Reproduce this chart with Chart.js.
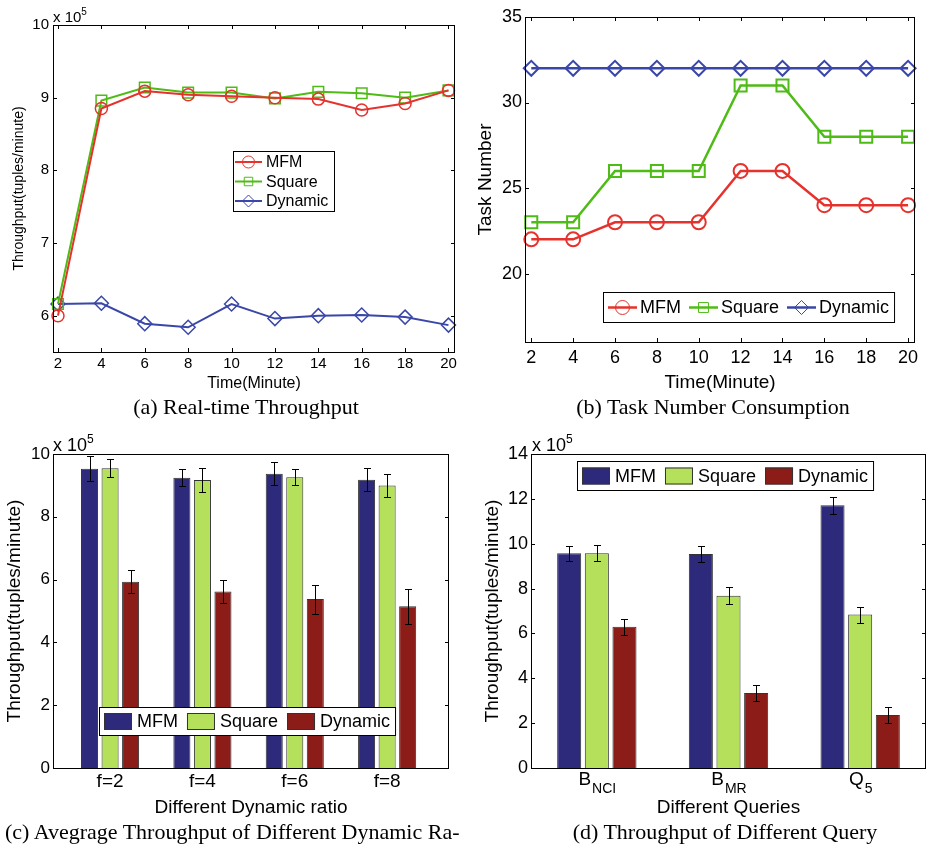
<!DOCTYPE html>
<html>
<head>
<meta charset="utf-8">
<script src="https://cdn.jsdelivr.net/npm/chart.js@4.4.0/dist/chart.umd.min.js"></script>
<style>
  body { margin: 0; background: #fff; width: 928px; height: 848px; position: relative; overflow: hidden;
         font-family: "Liberation Sans", Arial, sans-serif; color: #000; }
  canvas { position: absolute; }
  .cap { position: absolute; font-family: "Liberation Serif", "Times New Roman", serif; font-size: 22px;
         line-height: 24px; white-space: nowrap; text-align: center; }
  .exp { position: absolute; white-space: nowrap; line-height: 1; }
  .exp span { position: relative; }
</style>
</head>
<body>
<canvas id="chartA" width="464" height="395" style="left:0;top:0"></canvas>
<canvas id="chartB" width="464" height="395" style="left:464px;top:0"></canvas>
<canvas id="chartC" width="464" height="400" style="left:0;top:420px"></canvas>
<canvas id="chartD" width="464" height="400" style="left:464px;top:420px"></canvas>

<div class="exp" style="left:53px;top:9px;font-size:15px">x 10<span style="font-size:10px;top:-7px">5</span></div>
<div class="exp" style="left:53px;top:436px;font-size:18px">x 10<span style="font-size:12px;top:-8px">5</span></div>
<div class="exp" style="left:532px;top:436px;font-size:18px">x 10<span style="font-size:12px;top:-8px">5</span></div>

<div class="cap" style="left:46px;width:400px;top:395px">(a) Real-time Throughput</div>
<div class="cap" style="left:513px;width:400px;top:395px">(b) Task Number Consumption</div>
<div class="cap" style="left:5px;top:820px;text-align:left">(c) Avegrage Throughput of Different Dynamic Ra-</div>
<div class="cap" style="left:525px;width:400px;top:820px">(d) Throughput of Different Query</div>

<script>
// (a) real-time throughput, x 10^5 tuples/minute
const minutes = [2, 4, 6, 8, 10, 12, 14, 16, 18, 20];
const mfmRate = [6.0, 8.85, 9.09, 9.04, 9.02, 9.0, 8.98, 8.83, 8.92, 9.1];
const squareRate = [6.16, 8.96, 9.14, 9.07, 9.07, 8.99, 9.08, 9.06, 9.0, 9.1];
const dynamicRate = [6.16, 6.17, 5.89, 5.84, 6.16, 5.96, 6.0, 6.01, 5.98, 5.87];
const rateTicks = [6, 7, 8, 9, 10];

// (b) task number
const mfmTasks = [22, 22, 23, 23, 23, 26, 26, 24, 24, 24];
const squareTasks = [23, 23, 26, 26, 26, 31, 31, 28, 28, 28];
const dynamicTasks = [32, 32, 32, 32, 32, 32, 32, 32, 32, 32];
const taskTicks = [20, 25, 30, 35];

// (c) average throughput by dynamic ratio
const ratios = ['f=2', 'f=4', 'f=6', 'f=8'];
const mfmByRatio = [9.53, 9.24, 9.37, 9.18];
const mfmByRatioErr = [0.4, 0.27, 0.37, 0.37];
const squareByRatio = [9.55, 9.17, 9.26, 9.0];
const squareByRatioErr = [0.28, 0.37, 0.26, 0.36];
const dynamicByRatio = [5.93, 5.62, 5.38, 5.15];
const dynamicByRatioErr = [0.36, 0.36, 0.46, 0.55];
const ratioTicks = [0, 2, 4, 6, 8, 10];

// (d) throughput by query  [base, subscript]
const queries = [['B', 'NCI'], ['B', 'MR'], ['Q', '5']];
const mfmByQuery = [9.57, 9.54, 11.71];
const mfmByQueryErr = [0.35, 0.37, 0.37];
const squareByQuery = [9.57, 7.68, 6.84];
const squareByQueryErr = [0.36, 0.37, 0.36];
const dynamicByQuery = [6.3, 3.34, 2.36];
const dynamicByQueryErr = [0.35, 0.37, 0.37];
const queryTicks = [0, 2, 4, 6, 8, 10, 12, 14];

const RED = '#e5322d', GREEN = '#4fbb17', BLUE = '#3a47a9';
const NAVY = '#2e2a7b', LIME = '#b5e05c', MAROON = '#8b1c17';
const FONT = '"Liberation Sans", Arial, sans-serif';
const NOGRID = { display: false, drawTicks: false };

Chart.defaults.color = '#000';
Chart.defaults.font.family = FONT;
Chart.defaults.animation = false;
Chart.defaults.plugins.legend.display = false;
Chart.defaults.plugins.tooltip.enabled = false;

function marker(ctx, style, x, y, r) {
  ctx.beginPath();
  if (style === 'circle') ctx.arc(x, y, r, 0, Math.PI * 2);
  else if (style === 'rect') { const s = r * Math.SQRT1_2; ctx.rect(x - s, y - s, 2 * s, 2 * s); }
  else { ctx.moveTo(x, y - r); ctx.lineTo(x + r, y); ctx.lineTo(x, y + r); ctx.lineTo(x - r, y); ctx.closePath(); }
  ctx.stroke();
}

function drawLegend(chart, o) {
  const ctx = chart.ctx;
  const sets = chart.data.datasets;
  ctx.save();
  ctx.font = o.size + 'px ' + FONT;
  ctx.textBaseline = 'middle';
  let w = o.w;
  if (!o.vertical) {
    w = o.pad;
    sets.forEach((ds, i) => {
      w += o.sample + o.gap + ctx.measureText(ds.label).width + (i < sets.length - 1 ? o.space : 0);
    });
    w += o.pad;
  }
  ctx.fillStyle = '#fff';
  ctx.fillRect(o.x, o.y, w, o.h);
  ctx.strokeStyle = '#000';
  ctx.lineWidth = 1;
  ctx.strokeRect(o.x + 0.5, o.y + 0.5, w, o.h);
  let cx = o.x + o.pad;
  sets.forEach((ds, i) => {
    const sy = o.vertical ? o.y + o.first + i * o.step : o.y + o.h / 2 + 0.5;
    const sx = o.vertical ? o.x + o.pad : cx;
    if (o.swatch) {
      ctx.fillStyle = ds.backgroundColor;
      ctx.fillRect(sx, sy - o.sh / 2, o.sample, o.sh);
      ctx.strokeStyle = '#333';
      ctx.strokeRect(sx + 0.5, sy - o.sh / 2 + 0.5, o.sample - 1, o.sh - 1);
    } else {
      ctx.strokeStyle = ds.borderColor;
      ctx.lineWidth = o.lw;
      ctx.beginPath();
      ctx.moveTo(sx, sy);
      ctx.lineTo(sx + o.sample, sy);
      ctx.stroke();
      ctx.lineWidth = 1;
      marker(ctx, ds.pointStyle, sx + o.sample / 2, sy, o.mr);
    }
    ctx.fillStyle = '#000';
    ctx.fillText(ds.label, sx + o.sample + o.gap, sy + 1);
    cx += o.sample + o.gap + ctx.measureText(ds.label).width + o.space;
  });
  ctx.restore();
}

const matlabLook = {
  id: 'matlabLook',
  afterDatasetsDraw(chart, args, o) {
    const { ctx, chartArea: a, scales } = chart;
    ctx.save();
    ctx.strokeStyle = '#000';
    ctx.lineWidth = 1;
    // error bars
    chart.data.datasets.forEach((ds, i) => {
      if (!ds.errors) return;
      const meta = chart.getDatasetMeta(i);
      meta.data.forEach((bar, j) => {
        const d = ds.data[j];
        const val = typeof d === 'object' ? d.y : d;
        const e = ds.errors[j];
        const top = Math.round(scales.y.getPixelForValue(val + e)) + 0.5;
        const bot = Math.round(scales.y.getPixelForValue(val - e)) + 0.5;
        const x = Math.round(bar.x) + 0.5;
        ctx.beginPath();
        ctx.moveTo(x, top); ctx.lineTo(x, bot);
        ctx.moveTo(x - 3.5, top); ctx.lineTo(x + 3.5, top);
        ctx.moveTo(x - 3.5, bot); ctx.lineTo(x + 3.5, bot);
        ctx.stroke();
      });
    });
    // frame and inward ticks
    const L = Math.round(a.left), R = Math.round(a.right), T = Math.round(a.top), B = Math.round(a.bottom);
    ctx.beginPath();
    scales.y.ticks.forEach(t => {
      const y = Math.round(scales.y.getPixelForValue(t.value)) + 0.5;
      ctx.moveTo(L, y); ctx.lineTo(L + 4, y);
      ctx.moveTo(R, y); ctx.lineTo(R - 4, y);
    });
    if (o.xTicks) {
      scales.x.ticks.forEach(t => {
        const x = Math.round(scales.x.getPixelForValue(t.value)) + 0.5;
        ctx.moveTo(x, B); ctx.lineTo(x, B - 4);
        ctx.moveTo(x, T); ctx.lineTo(x, T + 4);
      });
    }
    ctx.stroke();
    ctx.strokeRect(L + 0.5, T + 0.5, R - L - 1, B - T);
    // subscripted category labels
    if (o.subLabels) {
      ctx.fillStyle = '#000';
      ctx.textBaseline = 'alphabetic';
      ctx.textAlign = 'left';
      o.subLabels.forEach((lab, i) => {
        const x = scales.x.getPixelForTick(i);
        ctx.font = '19px ' + FONT;
        const w1 = ctx.measureText(lab[0]).width;
        ctx.font = '14px ' + FONT;
        const w2 = ctx.measureText(lab[1]).width;
        const sx = x - (w1 + w2) / 2;
        ctx.font = '19px ' + FONT;
        ctx.fillText(lab[0], sx, B + 17);
        ctx.font = '14px ' + FONT;
        ctx.fillText(lab[1], sx + w1 + 1, B + 25);
      });
    }
    ctx.restore();
    if (o.legend) drawLegend(chart, o.legend);
  }
};

function lineSet(label, data, color, style, r, lw, pw) {
  return {
    label, data: data.map((v, i) => ({ x: minutes[i], y: v })),
    borderColor: color, backgroundColor: 'transparent', borderWidth: lw,
    pointStyle: style, pointRadius: r, pointBorderWidth: pw,
    pointBorderColor: color, pointBackgroundColor: 'transparent', clip: false
  };
}

function barSet(label, data, errors, color, xs) {
  return {
    label, errors,
    data: xs ? data.map((v, i) => ({ x: i + 1, y: v })) : data,
    backgroundColor: color, borderColor: '#333', borderWidth: 1
  };
}

function fixedTicks(list) {
  return scale => { scale.ticks = list.map(v => ({ value: v })); };
}

// (a)
new Chart(document.getElementById('chartA'), {
  type: 'line',
  data: {
    datasets: [
      lineSet('MFM', mfmRate, RED, 'circle', 6, 2, 1.5),
      lineSet('Square', squareRate, GREEN, 'rect', 7.5, 2, 1.5),
      lineSet('Dynamic', dynamicRate, BLUE, 'rectRot', 7, 2, 1.5)
    ]
  },
  options: {
    responsive: false,
    layout: { padding: { top: 25, right: 9, left: 0, bottom: 0 } },
    scales: {
      x: {
        type: 'linear', min: 1.77, max: 20.3,
        afterBuildTicks: fixedTicks(minutes),
        afterFit: s => { s.height = 43; },
        grid: NOGRID, border: { display: false },
        ticks: { font: { size: 15 }, padding: 3 },
        title: { display: true, text: 'Time(Minute)', font: { size: 16 }, padding: { top: 0, bottom: 2 } }
      },
      y: {
        min: 5.5, max: 10,
        afterBuildTicks: fixedTicks(rateTicks),
        afterFit: s => { s.width = 53; },
        grid: NOGRID, border: { display: false },
        ticks: { font: { size: 15 }, padding: 4 },
        title: { display: true, text: 'Throughput(tuples/minute)', font: { size: 14 }, padding: { top: 11, bottom: 0 } }
      }
    },
    plugins: {
      matlabLook: {
        xTicks: true,
        legend: { vertical: true, x: 233, y: 151, w: 101, h: 60, pad: 2, first: 11, step: 19.5,
                  sample: 27, gap: 4, size: 16, lw: 2, mr: 6 }
      }
    }
  },
  plugins: [matlabLook]
});

// (b)
new Chart(document.getElementById('chartB'), {
  type: 'line',
  data: {
    datasets: [
      lineSet('MFM', mfmTasks, RED, 'circle', 7, 2.5, 2),
      lineSet('Square', squareTasks, GREEN, 'rect', 8.5, 2.5, 2),
      lineSet('Dynamic', dynamicTasks, BLUE, 'rectRot', 7.5, 2.5, 2)
    ]
  },
  options: {
    responsive: false,
    layout: { padding: { top: 17, right: 13, left: 0, bottom: 0 } },
    scales: {
      x: {
        type: 'linear', min: 1.7, max: 20.33,
        afterBuildTicks: fixedTicks(minutes),
        afterFit: s => { s.height = 53; },
        grid: NOGRID, border: { display: false },
        ticks: { font: { size: 18 }, padding: 5 },
        title: { display: true, text: 'Time(Minute)', font: { size: 19 }, padding: { top: 0, bottom: 1 } }
      },
      y: {
        min: 16, max: 35,
        afterBuildTicks: fixedTicks(taskTicks),
        afterFit: s => { s.width = 61; },
        grid: NOGRID, border: { display: false },
        ticks: { font: { size: 18 }, padding: 3 },
        title: { display: true, text: 'Task Number', font: { size: 19 }, padding: { top: 10, bottom: 0 } }
      }
    },
    plugins: {
      matlabLook: {
        xTicks: true,
        legend: { x: 139, y: 292, h: 30, pad: 5, sample: 29, gap: 3, space: 8, size: 18, lw: 2.5, mr: 7 }
      }
    }
  },
  plugins: [matlabLook]
});

// (c)
new Chart(document.getElementById('chartC'), {
  type: 'bar',
  data: {
    datasets: [
      barSet('MFM', mfmByRatio, mfmByRatioErr, NAVY, true),
      barSet('Square', squareByRatio, squareByRatioErr, LIME, true),
      barSet('Dynamic', dynamicByRatio, dynamicByRatioErr, MAROON, true)
    ]
  },
  options: {
    responsive: false,
    categoryPercentage: 0.667,
    barPercentage: 0.83,
    layout: { padding: { top: 34, right: 15, left: 0, bottom: 0 } },
    scales: {
      x: {
        type: 'linear', min: 0.382, max: 4.67, offset: false,
        afterBuildTicks: fixedTicks(ratios.map((r, i) => i + 1)),
        afterFit: s => { s.height = 52; },
        grid: NOGRID, border: { display: false },
        ticks: { font: { size: 19 }, padding: 2, callback: v => ratios[v - 1] },
        title: { display: true, text: 'Different Dynamic ratio', font: { size: 19 }, padding: { top: 0, bottom: 1 } }
      },
      y: {
        min: 0, max: 10,
        afterBuildTicks: fixedTicks(ratioTicks),
        afterFit: s => { s.width = 53; },
        grid: NOGRID, border: { display: false },
        ticks: { font: { size: 17 }, padding: 3 },
        title: { display: true, text: 'Throughput(tuples/minute)', font: { size: 19 }, padding: { top: 3, bottom: 0 } }
      }
    },
    plugins: {
      matlabLook: {
        legend: { swatch: true, x: 99, y: 287, h: 28, pad: 5, sample: 28, sh: 17, gap: 5, space: 9, size: 18 }
      }
    }
  },
  plugins: [matlabLook]
});

// (d)
new Chart(document.getElementById('chartD'), {
  type: 'bar',
  data: {
    labels: queries.map(q => q.join('')),
    datasets: [
      barSet('MFM', mfmByQuery, mfmByQueryErr, NAVY),
      barSet('Square', squareByQuery, squareByQueryErr, LIME),
      barSet('Dynamic', dynamicByQuery, dynamicByQueryErr, MAROON)
    ]
  },
  options: {
    responsive: false,
    categoryPercentage: 0.63,
    barPercentage: 0.87,
    layout: { padding: { top: 34, right: 2, left: 0, bottom: 0 } },
    scales: {
      x: {
        afterFit: s => { s.height = 52; },
        grid: NOGRID, border: { display: false },
        ticks: { display: false },
        title: { display: true, text: 'Different Queries', font: { size: 19 }, padding: { top: 0, bottom: 1 } }
      },
      y: {
        min: 0, max: 14,
        afterBuildTicks: fixedTicks(queryTicks),
        afterFit: s => { s.width = 67; },
        grid: NOGRID, border: { display: false },
        ticks: { font: { size: 18 }, padding: 3 },
        title: { display: true, text: 'Throughput(tuples/minute)', font: { size: 19 }, padding: { top: 17, bottom: 0 } }
      }
    },
    plugins: {
      matlabLook: {
        subLabels: queries,
        legend: { swatch: true, x: 113, y: 41, h: 29, pad: 5, sample: 28, sh: 17, gap: 5, space: 9, size: 18 }
      }
    }
  },
  plugins: [matlabLook]
});
</script>
</body>
</html>
